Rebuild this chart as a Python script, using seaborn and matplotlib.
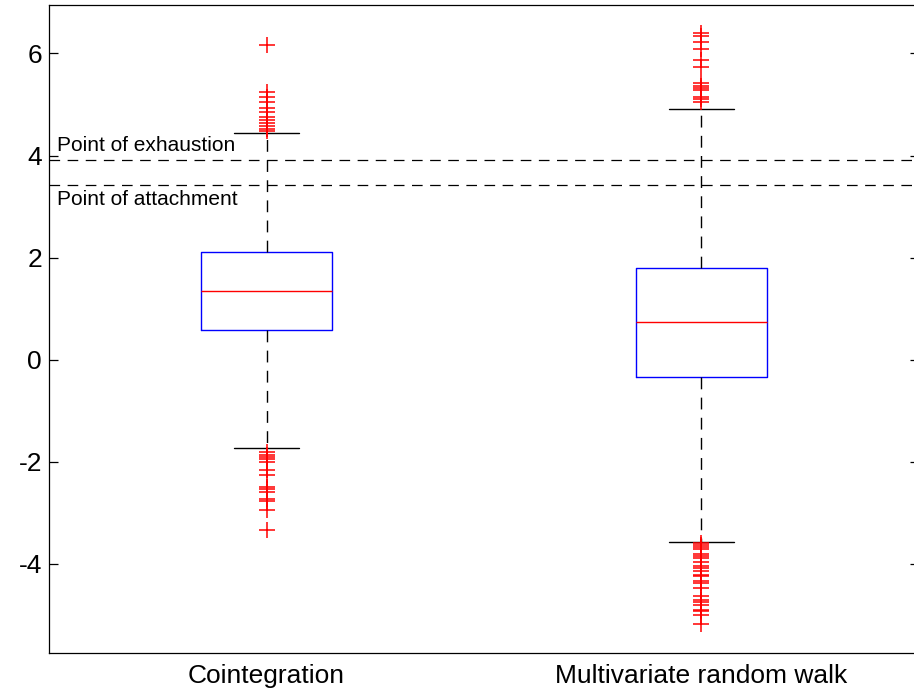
import matplotlib
matplotlib.use("Agg")
import matplotlib.pyplot as plt
import seaborn as sns
import pandas as pd
import numpy as np

# ---- data ----
categories = ["Cointegration", "Multivariate random walk"]
medians = [1.35, 0.73]
q1 = [0.58, -0.35]
q3 = [2.11, 1.80]
whisker_lo = [-1.74, -3.58]
whisker_hi = [4.44, 4.92]
outliers_coint = [6.16, 5.25, 5.15, 5.05, 4.93, 4.85, 4.76, 4.69, 4.63, 4.57, 4.51, 4.48,
                  -1.82, -1.87, -1.91, -1.95, -2.01, -2.17, -2.26, -2.50, -2.54, -2.60,
                  -2.73, -2.77, -2.94, -3.33]
outliers_mrw = [6.41, 6.35, 6.23, 6.09, 5.87, 5.73, 5.42, 5.36, 5.32, 5.28, 5.15, 5.10, 5.05,
                -3.60, -3.64, -3.67, -3.71, -3.80, -3.84, -3.88, -3.96, -4.05, -4.09, -4.14,
                -4.22, -4.25, -4.33, -4.37, -4.48, -4.63, -4.71, -4.75, -4.81, -4.90, -4.93,
                -5.00, -5.18]
ref_labels = ["Point of exhaustion", "Point of attachment"]
ref_values = [3.92, 3.42]
yticks = [-4, -2, 0, 2, 4, 6]

sns.set_style("white")
plt.rcParams["font.family"] = ["Liberation Sans", "DejaVu Sans"]
plt.rcParams["axes.unicode_minus"] = False
plt.rcParams["text.color"] = "black"
plt.rcParams["xtick.color"] = "black"
plt.rcParams["ytick.color"] = "black"
plt.rcParams["axes.labelcolor"] = "black"

fig = plt.figure(figsize=(9.14, 6.92), dpi=100)
ax = fig.add_axes([49 / 914, 39 / 692, 870 / 914, 648 / 692])

positions = [1, 2]
stats = []
for i, c in enumerate(categories):
    stats.append(dict(label=c, med=medians[i], q1=q1[i], q3=q3[i],
                      whislo=whisker_lo[i], whishi=whisker_hi[i], fliers=[]))

dash = (0, (8.5, 6.0))
ax.bxp(stats, positions=positions, widths=0.3, capwidths=0.15, showfliers=False,
       boxprops=dict(color="#0000ff", linewidth=1.0),
       medianprops=dict(color="#ff0000", linewidth=1.0),
       whiskerprops=dict(color="black", linewidth=1.0, linestyle=dash),
       capprops=dict(color="black", linewidth=1.0))

out_df = pd.DataFrame({
    "x": [1] * len(outliers_coint) + [2] * len(outliers_mrw),
    "y": outliers_coint + outliers_mrw,
})
sns.scatterplot(data=out_df, x="x", y="y", marker="+", color="#ff0000", s=130,
                linewidth=1.1, ax=ax, legend=False, zorder=3)

for lab, v, va, off in zip(ref_labels, ref_values, ["bottom", "top"], [0.09, -0.09]):
    ax.axhline(v, color="black", linewidth=0.9, linestyle=dash, zorder=1)
    ax.text(0.518, v + off, lab, fontsize=15, va=va, ha="left", color="black")

ax.set_xlim(0.5, 2.5)
ax.set_ylim(-5.75, 6.95)
ax.set_xticks(positions)
ax.set_xticklabels(categories, fontsize=19, color="black")
ax.set_yticks(yticks)
ax.set_yticklabels([str(t) for t in yticks], fontsize=19, color="black")
ax.set_xlabel("")
ax.set_ylabel("")
ax.tick_params(axis="x", length=0, pad=8, labelcolor="black")
ax.tick_params(axis="y", direction="in", length=6.5, width=0.9, left=True, right=True,
               pad=5, color="black", labelcolor="black")
for s in ax.spines.values():
    s.set_visible(True)
    s.set_color("black")
    s.set_linewidth(0.9)

fig.savefig("out.png", dpi=100)
